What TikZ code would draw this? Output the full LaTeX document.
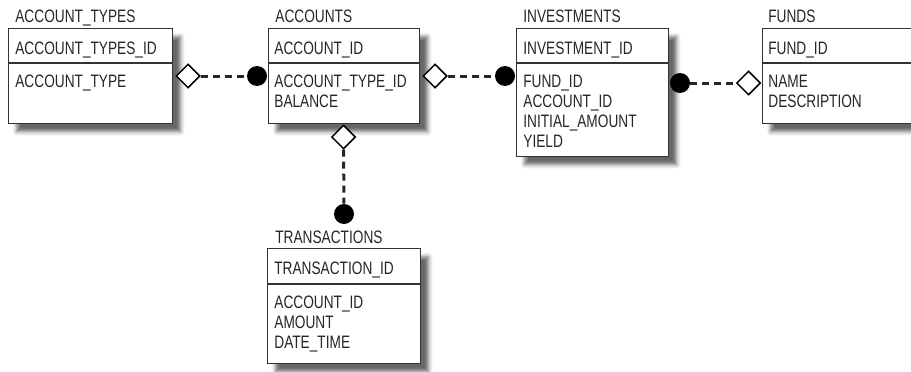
\documentclass[tikz,border=0pt]{standalone}
\usepackage{fontspec}
\setmainfont[FakeStretch=0.76]{Liberation Sans}
\usetikzlibrary{shapes.geometric,shadows.blur}

\tikzset{every picture/.style={line width=0.75pt}}
\tikzset{
  tbl/.style={draw=black!80, line width=1.3pt, fill=white, inner sep=0pt, anchor=north west,
    blur shadow={shadow xshift=8pt, shadow yshift=-8pt, shadow blur radius=4pt, shadow opacity=60}},
  ttl/.style={anchor=base west, inner sep=0pt, text=black!85, font=\fontsize{18}{20}\selectfont},
  fld/.style={ttl},
  opn/.style={diamond, draw=black, line width=1.5pt, fill=white, minimum width=24pt, minimum height=24pt, inner sep=0pt},
  mny/.style={circle, fill=black, minimum size=20pt, inner sep=0pt},
  rel/.style={draw=black!85, line width=3pt, dash pattern=on 7pt off 5pt},
  sep/.style={draw=black!80, line width=1.3pt}
}

\begin{document}
\begin{tikzpicture}[x=1pt,y=1pt,yscale=-1,xscale=1]
	\clip (0,0) rectangle (911,372);

	%Shape: Rectangle ACCOUNT_TYPES
	\node[tbl, minimum width=164pt, minimum height=95pt] (atBox) at (8,28) {};
	\draw[sep] (8,63) -- (172,63);
	%Shape: Rectangle ACCOUNTS
	\node[tbl, minimum width=151pt, minimum height=95pt] (acBox) at (268,28) {};
	\draw[sep] (268,63) -- (419,63);
	%Shape: Rectangle INVESTMENTS
	\node[tbl, minimum width=152pt, minimum height=128pt] (inBox) at (516,28) {};
	\draw[sep] (516,63) -- (668,63);
	%Shape: Rectangle FUNDS
	\node[tbl, minimum width=170pt, minimum height=95pt] (fuBox) at (762,28) {};
	\draw[sep] (762,63) -- (932,63);
	%Shape: Rectangle TRANSACTIONS
	\node[tbl, minimum width=153pt, minimum height=115pt] (trBox) at (267,248) {};
	\draw[sep] (267,284) -- (420,284);

	% Text Node
	\node[ttl] (atTitle) at (15,23) {ACCOUNT\_TYPES};
	\node[fld] (atKey) at (15,54) {ACCOUNT\_TYPES\_ID};
	\node[fld] (atF1) at (15,87) {ACCOUNT\_TYPE};
	% Text Node
	\node[ttl] (acTitle) at (275,23) {ACCOUNTS};
	\node[fld] (acKey) at (274,54) {ACCOUNT\_ID};
	\foreach \t [count=\i] in {ACCOUNT\_TYPE\_ID, BALANCE}
		\node[fld] (acF\i) at (274,67+20*\i) {\t};
	% Text Node
	\node[ttl] (inTitle) at (523,23) {INVESTMENTS};
	\node[fld] (inKey) at (523,54) {INVESTMENT\_ID};
	\foreach \t [count=\i] in {FUND\_ID, ACCOUNT\_ID, INITIAL\_AMOUNT, YIELD}
		\node[fld] (inF\i) at (523,67+20*\i) {\t};
	% Text Node
	\node[ttl] (fuTitle) at (768,23) {FUNDS};
	\node[fld] (fuKey) at (768,54) {FUND\_ID};
	\foreach \t [count=\i] in {NAME, DESCRIPTION}
		\node[fld] (fuF\i) at (768,67+20*\i) {\t};
	% Text Node
	\node[ttl] (trTitle) at (275,243) {TRANSACTIONS};
	\node[fld] (trKey) at (274,274) {TRANSACTION\_ID};
	\foreach \t [count=\i] in {ACCOUNT\_ID, AMOUNT, DATE\_TIME}
		\node[fld] (trF\i) at (274,288+20*\i) {\t};

	%Relation ends
	\node[opn] (atOne) at (188,76) {};
	\node[mny] (acMany) at (257,76) {};
	\node[opn] (acOne) at (435,76) {};
	\node[mny] (inMany) at (505,76) {};
	\node[mny] (inFund) at (680,83) {};
	\node[opn] (fuOne) at (748.5,83) {};
	\node[opn] (acDown) at (343.5,137) {};
	\node[mny] (trMany) at (344,214) {};

	%Straight Lines
	\draw[rel] (atOne) -- (acMany);
	\draw[rel] (acOne) -- (inMany);
	\draw[rel] (inFund) -- (fuOne);
	\draw[rel] (acDown) -- (trMany);

\end{tikzpicture}
\end{document}
